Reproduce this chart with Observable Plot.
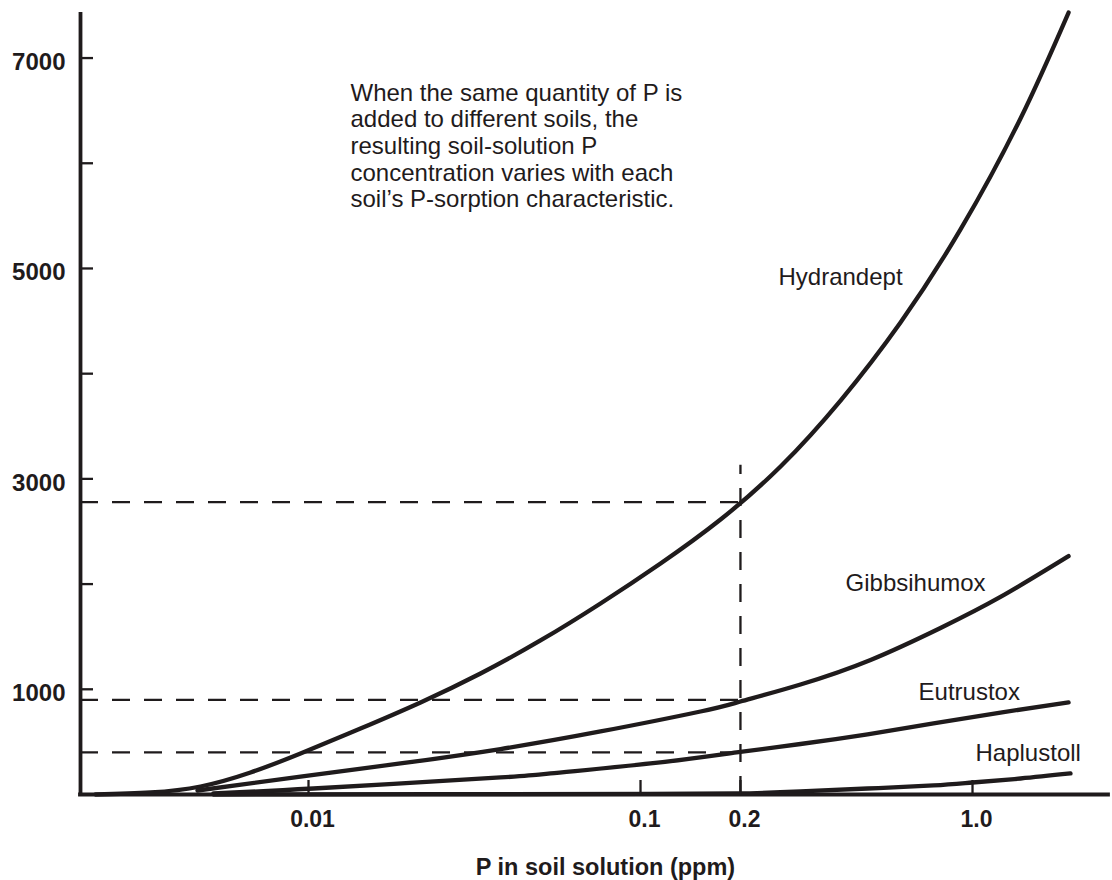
<!DOCTYPE html>
<html>
<head>
<meta charset="utf-8">
<script src="https://cdn.jsdelivr.net/npm/d3@7"></script>
<script src="https://cdn.jsdelivr.net/npm/@observablehq/plot@0.6"></script>
<style>
  html, body { margin: 0; padding: 0; background: #ffffff; }
  #chart { width: 1112px; height: 880px; }
</style>
</head>
<body>
<div id="chart"></div>
<script>
// ---- data ----
const soils = ["Hydrandept", "Gibbsihumox", "Eutrustox", "Haplustoll"];

const hydrandeptX = [0.002283, 0.003343, 0.004728, 0.006688, 0.009461, 0.01434, 0.02175, 0.03297, 0.04997, 0.07577, 0.1149, 0.1742, 0.2641, 0.4004, 0.6069, 0.9202, 1.395, 1.947];
const hydrandeptY = [0, 19, 76, 209, 390, 627, 875, 1150, 1464, 1816, 2196, 2614, 3118, 3745, 4487, 5371, 6426, 7433];

const gibbsihumoxX = [0.00463, 0.009461, 0.01893, 0.03787, 0.07577, 0.1516, 0.2, 0.3033, 0.4931, 0.801, 1.214, 1.947];
const gibbsihumoxY = [38, 171, 295, 432, 599, 789, 884, 1046, 1279, 1583, 1878, 2266];

const eutrustoxX = [0.00517, 0.01035, 0.0379, 0.0536, 0.1072, 0.1946, 0.3033, 0.4829, 0.763, 1.214, 1.947];
const eutrustoxY = [10, 57, 162, 200, 295, 400, 480, 572, 675, 779, 875];

const haplustollX = [0.00517, 0.01, 0.0379, 0.107, 0.195, 0.3033, 0.4829, 0.763, 1.0, 1.395, 1.973];
const haplustollY = [0, 2, 4, 6, 10, 29, 57, 86, 114, 152, 200];

const xTicks = [0.01, 0.1, 0.2, 1.0];
const xTickLabels = ["0.01", "0.1", "0.2", "1.0"];
const yTicks = [1000, 2000, 3000, 4000, 5000, 6000, 7000];
const yTickLabels = [1000, 3000, 5000, 7000];

const referenceX = 0.2;
const referenceY = [2780, 900, 400];
const referenceTop = 3130;

const labelX = [0.2604, 0.4145, 0.6877, 1.021];
const labelY = [4914, 2006, 970, 390];

const noteText = "When the same quantity of P is\nadded to different soils, the\nresulting soil-solution P\nconcentration varies with each\nsoil\u2019s P-sorption characteristic.";
const noteX = [0.01338];
const noteY = [6169];

const xTitle = "P in soil solution (ppm)";

const xDomain = [0.002057, 2.568];
const yDomain = [0, 7414];

// ---- build table ----
const seriesX = [hydrandeptX, gibbsihumoxX, eutrustoxX, haplustollX];
const seriesY = [hydrandeptY, gibbsihumoxY, eutrustoxY, haplustollY];
const rows = [];
soils.forEach((s, k) => seriesX[k].forEach((x, i) => rows.push({soil: s, x, y: seriesY[k][i]})));

const ink = "#1f1b1c";
const font = "'Liberation Sans', Arial, Helvetica, sans-serif";

try {
  const chart = Plot.plot({
    width: 1112,
    height: 880,
    marginLeft: 80,
    marginRight: 4,
    marginTop: 14,
    marginBottom: 86,
    style: {fontFamily: font, fontSize: "24px", color: ink, background: "#ffffff"},
    x: {type: "log", domain: xDomain},
    y: {type: "linear", domain: yDomain},
    marks: [
      // reference dashed lines
      Plot.ruleY(referenceY, {y: d => d, x1: () => xDomain[0], x2: () => referenceX,
        stroke: ink, strokeWidth: 2.3, strokeDasharray: "18,14"}),
      Plot.ruleX([referenceX], {x: d => d, y1: () => 0, y2: () => referenceTop,
        stroke: ink, strokeWidth: 2.3, strokeDasharray: "18,14"}),
      // curves
      Plot.line(rows, {x: "x", y: "y", z: "soil", curve: "natural",
        stroke: ink, strokeWidth: 4.3, strokeLinecap: "round", strokeLinejoin: "round"}),
      // axis lines
      Plot.ruleX([xDomain[0]], {stroke: ink, strokeWidth: 3.8, strokeLinecap: "square"}),
      Plot.ruleY([0], {stroke: ink, strokeWidth: 3.8, strokeLinecap: "square"}),
      // inward ticks
      Plot.axisY(yTicks, {anchor: "right", frameAnchor: "left", tickSize: 12, strokeWidth: 2.3, stroke: ink, fill: "none", label: null}),
      Plot.axisX(xTicks, {anchor: "top", frameAnchor: "bottom", tickSize: 15, strokeWidth: 2.3, stroke: ink, fill: "none", label: null}),
      // tick labels
      Plot.axisY(yTickLabels, {anchor: "left", tickSize: 0, tickPadding: 15, dy: 4,
        tickFormat: d => String(d), fontSize: 24, fontWeight: "bold", fill: ink, label: null}),
      Plot.axisX(xTicks, {anchor: "bottom", tickSize: 0, tickPadding: 16, dx: 4,
        tickFormat: d => xTickLabels[xTicks.indexOf(d)], fontSize: 23, fontWeight: "bold", fill: ink, label: null}),
      // axis title
      Plot.text([xTitle], {frameAnchor: "bottom", dy: 73, dx: 11, lineAnchor: "middle",
        fontSize: 23.5, fontWeight: "bold", fill: ink}),
      // series labels
      Plot.text(soils, {x: (d, i) => labelX[i], y: (d, i) => labelY[i], text: d => d,
        textAnchor: "start", lineAnchor: "middle", fontSize: 24, fill: ink}),
      // note
      Plot.text([noteText], {x: (d, i) => noteX[i], y: (d, i) => noteY[i], text: d => d,
        textAnchor: "start", lineAnchor: "middle", lineHeight: 1.11, fontSize: 24, fill: ink})
    ]
  });
  document.getElementById("chart").appendChild(chart);
} catch (e) {
  document.body.insertAdjacentHTML("beforeend", "<pre>" + e + "\n" + e.stack + "</pre>");
}
</script>
</body>
</html>
